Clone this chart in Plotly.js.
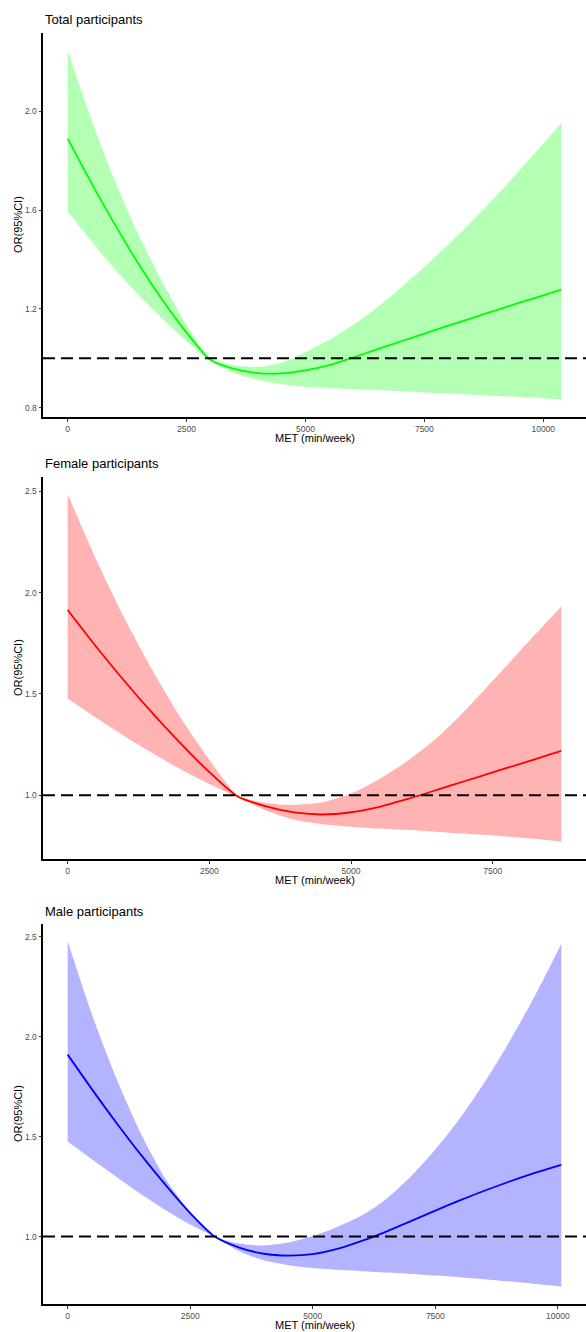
<!DOCTYPE html>
<html>
<head>
<meta charset="utf-8">
<script src="https://cdn.plot.ly/plotly-3.0.1.min.js"></script>
<style>html,body{margin:0;padding:0;background:#fff;}#chart{width:586px;height:1332px;}</style>
</head>
<body>
<div id="chart"></div>
<script>
// ---- Data ----
const panelTitles = ["Total participants", "Female participants", "Male participants"];
const xLabel = "MET (min/week)";
const yLabel = "OR(95%CI)";

// Total participants
const totalMET   = [0, 500, 1000, 1500, 2000, 2500, 3000, 3500, 4000, 4500, 5000, 5500, 6000, 6500, 7000, 7500, 8000, 8500, 9000, 9500, 10000, 10380];
const totalOR    = [1.889, 1.709, 1.539, 1.379, 1.234, 1.104, 0.994, 0.957, 0.940, 0.939, 0.951, 0.972, 1.003, 1.036, 1.068, 1.100, 1.132, 1.163, 1.194, 1.225, 1.255, 1.278];
const totalUpper = [2.246, 1.966, 1.716, 1.496, 1.306, 1.136, 1.0, 0.972, 0.965, 0.982, 1.025, 1.075, 1.135, 1.205, 1.285, 1.37, 1.46, 1.555, 1.655, 1.76, 1.868, 1.952];
const totalLower = [1.594, 1.474, 1.359, 1.254, 1.159, 1.069, 0.989, 0.94, 0.912, 0.895, 0.885, 0.879, 0.875, 0.871, 0.867, 0.862, 0.857, 0.852, 0.847, 0.843, 0.838, 0.833];

// Female participants
const femaleMET   = [0, 500, 1000, 1500, 2000, 2500, 3000, 3500, 4000, 4500, 5000, 5500, 6000, 6500, 7000, 7500, 8000, 8500, 8710];
const femaleOR    = [1.914, 1.734, 1.564, 1.404, 1.254, 1.114, 0.994, 0.945, 0.915, 0.905, 0.916, 0.943, 0.982, 1.025, 1.069, 1.113, 1.156, 1.2, 1.219];
const femaleUpper = [2.485, 2.165, 1.875, 1.615, 1.38, 1.175, 1.0, 0.962, 0.952, 0.965, 1.008, 1.08, 1.17, 1.28, 1.415, 1.565, 1.718, 1.868, 1.931];
const femaleLower = [1.477, 1.382, 1.292, 1.207, 1.127, 1.055, 0.99, 0.925, 0.879, 0.857, 0.845, 0.836, 0.828, 0.82, 0.811, 0.801, 0.79, 0.778, 0.771];

// Male participants
const maleMET   = [0, 500, 1000, 1500, 2000, 2500, 3000, 3500, 4000, 4500, 5000, 5500, 6000, 6500, 7000, 7500, 8000, 8500, 9000, 9500, 10000, 10070];
const maleOR    = [1.91, 1.735, 1.567, 1.407, 1.257, 1.117, 1.0, 0.945, 0.914, 0.905, 0.912, 0.938, 0.978, 1.025, 1.077, 1.13, 1.181, 1.229, 1.274, 1.316, 1.354, 1.359];
const maleUpper = [2.477, 2.107, 1.787, 1.512, 1.287, 1.122, 1.002, 0.965, 0.955, 0.97, 1.003, 1.048, 1.105, 1.188, 1.3, 1.435, 1.59, 1.77, 1.97, 2.19, 2.43, 2.464];
const maleLower = [1.475, 1.385, 1.297, 1.212, 1.132, 1.06, 0.998, 0.927, 0.881, 0.857, 0.843, 0.834, 0.827, 0.82, 0.813, 0.805, 0.797, 0.787, 0.776, 0.764, 0.752, 0.749];

const refOR = 1.0;
const xTicks = [0, 2500, 5000, 7500, 10000];
const yTicksTotal = [0.8, 1.2, 1.6, 2.0];
const yTicksSex = [1.0, 1.5, 2.0, 2.5];

// ---- Styling ----
const lineColors = ["#00FF00", "#FF0000", "#0000FF"];
const fillColors = ["#B3FFB3", "#FFB3B3", "#B3B3FF"];
const W = 586, H = 1332;
// plot areas in page pixels [left, top, right, bottom]
const boxes = [[43, 33, 586, 417], [43, 477, 586, 859], [43, 924, 586, 1304]];
const xTitleTop = [431.5, 873.5, 1317.5];   // page px of top of x-axis title
const yTitleX = 18;                         // page px of y-axis title centre

const panels = [
  {x: totalMET, y: totalOR, up: totalUpper, lo: totalLower, yt: yTicksTotal},
  {x: femaleMET, y: femaleOR, up: femaleUpper, lo: femaleLower, yt: yTicksSex},
  {x: maleMET, y: maleOR, up: maleUpper, lo: maleLower, yt: yTicksSex}
];

const traces = [];
const layout = {
  width: W, height: H,
  margin: {l: 0, r: 0, t: 0, b: 0, pad: 0},
  paper_bgcolor: "#fff", plot_bgcolor: "#fff",
  showlegend: false,
  font: {family: "Liberation Sans, Arial, sans-serif", color: "#000"},
  shapes: [], annotations: []
};

function expand(arr) {
  const mn = Math.min(...arr), mx = Math.max(...arr);
  const d = (mx - mn) * 0.05;
  return [mn - d, mx + d];
}

const sm = 0.7;
panels.forEach((p, i) => {
  const n = i + 1;
  const xa = n === 1 ? "x" : "x" + n;
  const ya = n === 1 ? "y" : "y" + n;
  traces.push({x: p.x, y: p.lo, xaxis: xa, yaxis: ya, mode: "lines", line: {width: 0, shape: "spline", smoothing: sm}, hoverinfo: "skip"});
  traces.push({x: p.x, y: p.up, xaxis: xa, yaxis: ya, mode: "lines", fill: "tonexty", fillcolor: fillColors[i], line: {width: 0, shape: "spline", smoothing: sm}, hoverinfo: "skip"});
  traces.push({x: p.x, y: p.y, xaxis: xa, yaxis: ya, mode: "lines", line: {color: lineColors[i], width: 1.8, shape: "spline", smoothing: sm}});

  const b = boxes[i];
  const xr = expand(p.x);
  const yr = expand(p.up.concat(p.lo));
  const xkey = n === 1 ? "xaxis" : "xaxis" + n;
  const ykey = n === 1 ? "yaxis" : "yaxis" + n;
  const xt = xTicks.filter(v => v <= xr[1]);
  layout[xkey] = {
    domain: [b[0] / W, b[2] / W], anchor: ya, range: xr,
    showline: true, linecolor: "#000", linewidth: 2, zeroline: false, showgrid: false,
    ticks: "outside", ticklen: 2.5, tickwidth: 1, tickcolor: "#333",
    tickvals: xt, ticktext: xt.map(String),
    tickfont: {size: 8.5, color: "#4D4D4D"},
    automargin: false, fixedrange: true
  };
  layout[ykey] = {
    domain: [1 - b[3] / H, 1 - b[1] / H], anchor: xa, range: yr,
    showline: true, linecolor: "#000", linewidth: 2, zeroline: false, showgrid: false,
    ticks: "outside", ticklen: 2.5, tickwidth: 1, tickcolor: "#333",
    tickvals: p.yt, ticktext: p.yt.map(v => v.toFixed(1)),
    tickfont: {size: 8.5, color: "#4D4D4D"},
    automargin: false, fixedrange: true
  };
  layout.shapes.push({
    type: "line", xref: xa + " domain", yref: ya, x0: 0, x1: 1, y0: refOR, y1: refOR,
    line: {color: "#000", width: 2, dash: "12px,6px"}, layer: "above"
  });
  // panel title
  layout.annotations.push({
    text: panelTitles[i], xref: "paper", yref: "paper",
    x: b[0] / W, y: 1 - (b[1] - 13) / H, xanchor: "left", yanchor: "middle",
    showarrow: false, font: {size: 13, color: "#000"}
  });
  // x-axis title
  layout.annotations.push({
    text: xLabel, xref: "paper", yref: "paper",
    x: ((b[0] + b[2]) / 2) / W, y: 1 - xTitleTop[i] / H, xanchor: "center", yanchor: "top",
    showarrow: false, font: {size: 11, color: "#000"}, borderpad: 0
  });
  // y-axis title
  layout.annotations.push({
    text: yLabel, xref: "paper", yref: "paper", textangle: -90,
    x: yTitleX / W, y: 1 - ((b[1] + b[3]) / 2) / H, xanchor: "center", yanchor: "middle",
    showarrow: false, font: {size: 11, color: "#000"}
  });
});

Plotly.newPlot("chart", traces, layout, {displayModeBar: false, staticPlot: true});
</script>
</body>
</html>
